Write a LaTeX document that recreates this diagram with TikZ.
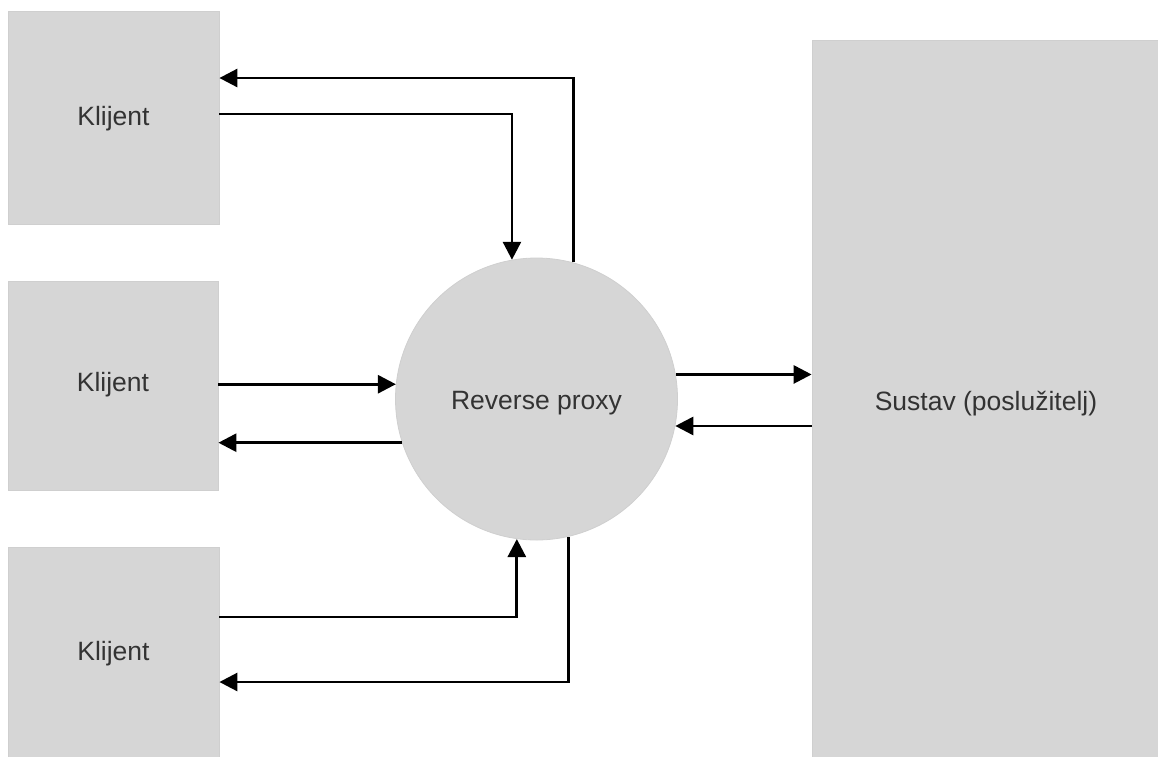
\documentclass[tikz,border=0pt]{standalone}
\usepackage{fontspec}
\setmainfont{Liberation Sans}
\usetikzlibrary{arrows.meta}
\definecolor{boxfill}{HTML}{D6D6D6}
\definecolor{boxline}{HTML}{CFCFCF}
\definecolor{labeltext}{HTML}{333333}
\begin{document}
\begin{tikzpicture}[x=1pt,y=-1pt,
  block/.style={rectangle, fill=boxfill, draw=boxline, line width=0.8pt,
    inner sep=0pt, text=labeltext, font=\fontsize{26.5}{32}\selectfont},
  proxynode/.style={circle, fill=boxfill, draw=boxline, line width=0.8pt,
    inner sep=0pt, minimum size=282pt},
  label/.style={text=labeltext, font=\fontsize{26.5}{32}\selectfont},
  flow/.style={line width=2.8pt, draw=black,
    -{Triangle[length=18pt,width=18pt]}}]
\useasboundingbox (0,0) rectangle (1158,756);

% clients on the left
\node[block, minimum width=211pt, minimum height=213pt] (c1) at (113.5,117.5) {};
\node[label] (t1) at (113.5,119) {Klijent};
\node[block, minimum width=210pt, minimum height=209pt] (c2) at (113,385.5) {};
\node[label] (t2) at (113,385) {Klijent};
\node[block, minimum width=211pt, minimum height=210pt] (c3) at (113.5,652) {};
\node[label] (t3) at (113.5,654) {Klijent};

% reverse proxy in the middle
\node[proxynode] (proxy) at (536.5,399) {};
\node[label] (tp) at (536.5,403) {Reverse proxy};

% backend system on the right
\node[block, minimum width=346pt, minimum height=726pt] (sys) at (985,403) {};
\node[label] (ts) at (986,404) {Sustav (poslužitelj)};

% client 1 <-> proxy
\draw[flow] ([yshift=3.5pt]c1.east) -| (proxy.100);
\draw[flow] (proxy.75) |- ([yshift=39.5pt]c1.east);

% client 2 <-> proxy
\draw[flow] (c2.east |- proxy.174) -- (proxy.174);
\draw[flow] (proxy.198) -- (c2.east |- proxy.198);

% client 3 <-> proxy
\draw[flow] ([yshift=35pt]c3.east) -| (proxy.262);
\draw[flow] (proxy.283) |- ([yshift=-30pt]c3.east);

% proxy <-> system
\draw[flow] (proxy.10.6) -- (sys.west |- proxy.10.6);
\draw[flow] (sys.west |- proxy.-11) -- (proxy.-11);
\end{tikzpicture}
\end{document}
